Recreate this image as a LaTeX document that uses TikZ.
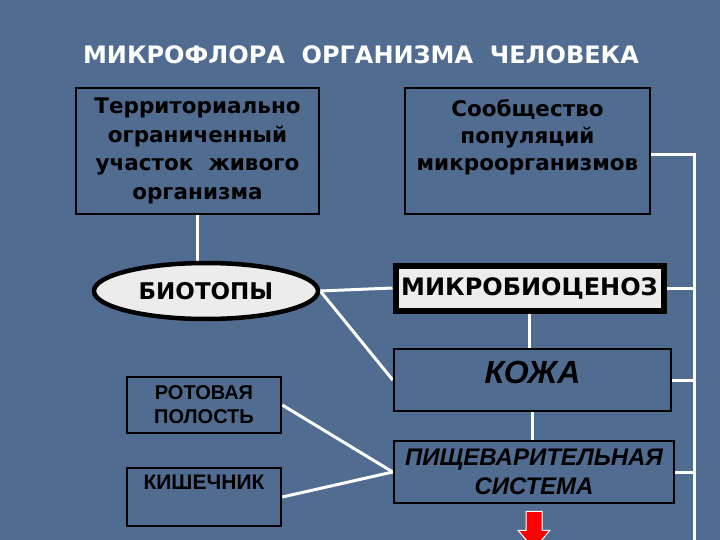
\documentclass[tikz,border=0pt]{standalone}
\usepackage{fontspec}
\setmainfont{Liberation Sans}
\newfontfamily\dvsans{DejaVu Sans}
\usetikzlibrary{shapes.geometric,calc,backgrounds}

\definecolor{slide}{RGB}{80,108,145}
\definecolor{paper}{RGB}{236,236,236}
\pgfdeclarelayer{bg}
\pgfsetlayers{bg,background,main}

\begin{document}
\begin{tikzpicture}[x=1pt,y=-1pt,
    box/.style={draw=black, line width=2.5pt, rectangle, align=center, inner sep=0pt},
    wire/.style={draw=white, line width=3pt},
    bold/.style 2 args={font=\dvsans\bfseries\fontsize{#1}{#2}\selectfont},
    ital/.style 2 args={font=\bfseries\itshape\fontsize{#1}{#2}\selectfont},
    narrow/.style 2 args={font=\bfseries\fontsize{#1}{#2}\selectfont}]
    % фон слайда
    \begin{pgfonlayer}{bg}
        \path[fill=slide](0,0)rectangle(720,540);
    \end{pgfonlayer}
    \useasboundingbox(0,0)rectangle(720,540);

    % заголовок
    \node[bold={24}{28}, text=white] (title) at (361,55) {МИКРОФЛОРА \ ОРГАНИЗМА \ ЧЕЛОВЕКА};

    % верхние определения
    \node[box, bold={21.5}{28.5}, minimum width=243, minimum height=126] (terr) at (197.5,151)
        {Территориально\\ограниченный\\участок \ живого\\организма};
    \node[box, bold={21.5}{27}, minimum width=245, minimum height=126, text depth=32pt] (comm) at (527.5,151)
        {Сообщество\\популяций\\микроорганизмов};

    % биотопы и микробиоценоз
    \node[ellipse, draw=black, line width=4.5pt, fill=paper, bold={23}{26},
          minimum width=224, minimum height=56, inner sep=0pt] (biotop) at (206,291) {БИОТОПЫ};
    \node[box, line width=6pt, fill=paper, bold={24}{28}, minimum width=268, minimum height=45] (mbc) at (529.5,288)
        {МИКРОБИОЦЕНОЗ};

    % локализации
    \node[box, ital={32}{36}, minimum width=277, minimum height=62, text depth=16pt] (skin) at (532.5,380) {КОЖА};
    \node[box, ital={24}{29}, minimum width=280, minimum height=62] (digest) at (534,472)
        {ПИЩЕВАРИТЕЛЬНАЯ\\СИСТЕМА};
    \node[box, narrow={20}{24}, minimum width=154, minimum height=56] (mouth) at (204,405)
        {РОТОВАЯ\\ПОЛОСТЬ};
    \node[box, narrow={21}{24}, minimum width=154, minimum height=58] (gut) at (204,497)
        {КИШЕЧНИК\\[6pt]\mbox{}};

    % правая шина
    \coordinate (bus top) at (694,155);
    \coordinate (bus end) at (694,540);

    % связи
    \begin{pgfonlayer}{background}
        \path[wire](terr.south)--(terr.south|-biotop.north);
        \path[wire](biotop.east)--(mbc.west);
        \path[wire](biotop.east)--(skin.west);
        \path[wire](mbc.south)--(mbc.south|-skin.north);
        \path[wire](skin.south)--(skin.south|-digest.north);
        \path[wire](mouth.east)--(digest.west);
        \path[wire](gut.east)--(digest.west);
        \path[wire](comm.east|-bus top)--(bus top)--(bus end);
        \path[wire](mbc.east)--(mbc.east-|bus top);
        \path[wire](skin.east)--(skin.east-|bus top);
        \path[wire](digest.east)--(digest.east-|bus top);
    \end{pgfonlayer}

    % красная стрелка
    \coordinate (arr) at ($(digest.south)+(0,7)$);
    \path[draw=white, line width=1pt, fill=red]
        ($(arr)+(-8,0)$)--($(arr)+(8,0)$)--($(arr)+(8,19)$)--($(arr)+(16,19)$)
        --($(arr)+(0,38)$)--($(arr)+(-16,19)$)--($(arr)+(-8,19)$)--cycle;
\end{tikzpicture}
\end{document}
